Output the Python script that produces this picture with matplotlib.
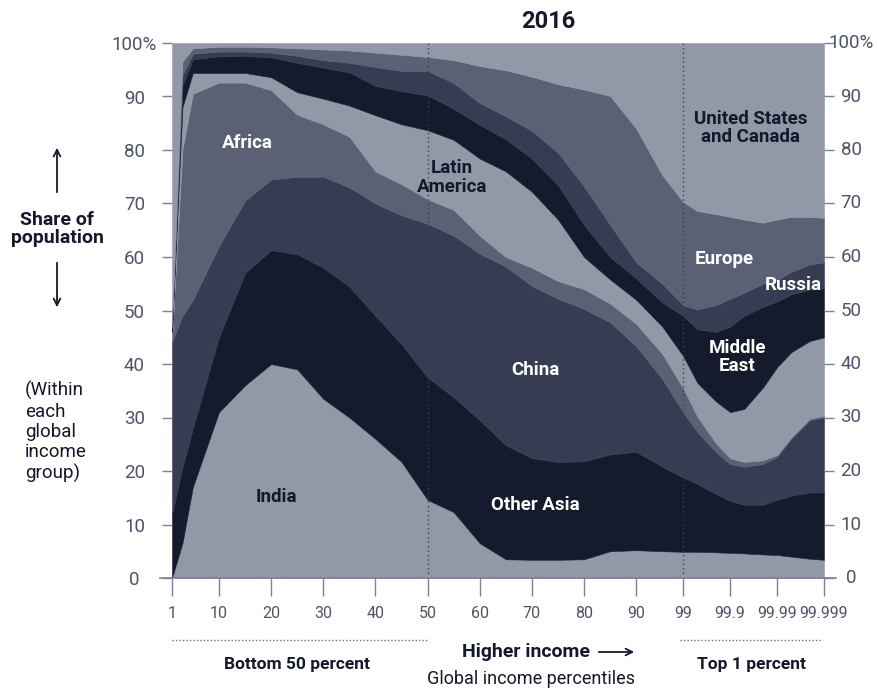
import numpy as np
import matplotlib.pyplot as plt
from matplotlib.lines import Line2D
from matplotlib import transforms

# global income percentiles (x) and share of each region's population (%)
percentiles = [1, 3, 5, 10, 15, 20, 25, 30, 35, 40, 45, 50, 55, 60, 65, 70, 75, 80, 85, 90, 95,
               99, 99.5, 99.8, 99.9, 99.95, 99.98, 99.99, 99.995, 99.998, 99.999]

india = [0, 6.5, 17, 31, 36, 40, 39, 33.5, 30, 26, 21.7, 14.6, 12.3, 6.5, 3.5, 3.4, 3.4, 3.5, 5.0, 5.2,
         5.0, 4.9, 4.9, 4.8, 4.7, 4.6, 4.4, 4.3, 4.0, 3.6, 3.4]
other_asia = [12, 14.2, 11, 14, 21, 21.3, 21.5, 24.5, 24.5, 23, 22, 22.9, 21.5, 23, 21.3, 19, 18.3, 18.3,
              18.1, 18.4, 15.8, 13.9, 12.7, 10.9, 9.7, 9.1, 9.3, 10.3, 11.4, 12.4, 12.6]
china = [32, 28.3, 24, 17, 13.5, 13.2, 14.5, 17, 18.5, 21, 24.1, 28.7, 30.2, 31.1, 33.4, 32.2, 30.5, 28.5,
         24.7, 19.7, 16.4, 12.2, 9.7, 7.8, 6.9, 7.1, 7.6, 8, 10.6, 13.5, 14]
africa = [1, 31, 38.5, 30.6, 22.1, 16.7, 11.6, 9.8, 9.5, 6, 5.8, 4.6, 4.8, 3.4, 1.8, 3.4, 3.3, 3.7, 3.5,
          4.2, 4.7, 4.5, 2.9, 1.7, 1.1, 0.9, 0.7, 0.4, 0.3, 0.3, 0.3]
latin_america = [1, 8, 3.9, 1.8, 1.8, 2.4, 4.2, 4.8, 5.8, 10.5, 11.2, 12.9, 13.1, 14.4, 16, 14.2, 11.5, 6,
                 4.5, 4.5, 5.1, 6, 6.3, 7.8, 8.6, 9.9, 13.6, 16.4, 15.9, 14.5, 14.7]
middle_east = [0.5, 4, 2.6, 3.1, 3.2, 3.7, 5.5, 5.8, 6.2, 5.5, 6.2, 6.5, 5.8, 6.3, 6, 6.2, 6.4, 6, 4.2, 4,
               4.5, 7.5, 10, 13, 16, 17.4, 15.1, 12.3, 10.8, 9.6, 9.2]
russia = [0.5, 2, 1, 0.9, 0.8, 0.9, 1.3, 1.4, 1.8, 3.5, 3.8, 4.6, 4.8, 4.1, 4.3, 5.2, 6.1, 7.2, 6, 3, 3.5,
          2, 3.7, 5, 5.2, 4.3, 4.3, 4, 4.2, 4.7, 4.8]
europe = [1, 2.5, 1, 0.9, 0.9, 1, 1.4, 2, 2.3, 2.7, 3, 2.6, 4.3, 6.9, 8.6, 10.1, 12.8, 18.1, 24.1, 25,
          20.3, 19.3, 18.4, 17, 15.3, 13.7, 11.4, 11.3, 10.3, 8.9, 8.3]
us_canada = [52, 3.5, 1, 0.7, 0.7, 0.8, 1, 1.2, 1.4, 1.8, 2.2, 2.6, 3.2, 4.3, 5.1, 6.3, 7.7, 8.7, 9.9, 16,
             24.7, 29.7, 31.4, 32, 32.5, 33, 33.6, 33, 32.5, 32.5, 32.7]

tick_percentiles = [1, 10, 20, 30, 40, 50, 60, 70, 80, 90, 99, 99.9, 99.99, 99.999]
tick_labels = ["1", "10", "20", "30", "40", "50", "60", "70", "80", "90", "99", "99.9", "99.99", "99.999"]
y_ticks = [0, 10, 20, 30, 40, 50, 60, 70, 80, 90, 100]
y_labels = ["0", "10", "20", "30", "40", "50", "60", "70", "80", "90", "100%"]


def xpos(p):
    # linear up to 99, then one step per "nine" inside the top 1 percent
    p = np.asarray(p, dtype=float)
    top = 99 + 9 * -np.log10(np.clip(100 - p, 1e-9, None))
    return np.where(p <= 99, p, top)


plt.rcParams['font.family'] = ['Roboto', 'DejaVu Sans']

LIGHT = "#9398a9"
BLACK = "#151a2d"
SLATE = "#363c51"
MEDIUM = "#5b6175"
NAVY = "#14182b"
TICK = "#7d8396"
LABEL = "#4d536a"

fig = plt.figure(figsize=(8.78, 6.89), dpi=100)
ax = fig.add_axes([172 / 878, 1 - 578 / 689, (824 - 172) / 878, (578 - 43) / 689])

x = xpos(percentiles)
series = [india, other_asia, china, africa, latin_america, middle_east, russia, europe, us_canada]
colors = [LIGHT, BLACK, SLATE, MEDIUM, LIGHT, BLACK, SLATE, MEDIUM, LIGHT]
polys = ax.stackplot(x, series, colors=colors, linewidth=0.4)
for p, c in zip(polys, colors):
    p.set_edgecolor(c)

ax.set_xlim(xpos(1), xpos(99.999))
ax.set_ylim(0, 100)

for p in [50, 99]:
    ax.axvline(xpos(p), color="#3a3f50", lw=1, ls=(0, (1, 2.2)), zorder=5)

# axes styling
for s in ax.spines.values():
    s.set_visible(False)
ax.plot([-0.018, 1.018], [0, 0], transform=ax.transAxes, color=TICK, lw=1.2, clip_on=False, zorder=6)

ax.set_xticks(xpos(tick_percentiles))
ax.set_xticklabels(tick_labels)
ax.tick_params(axis="x", length=13, width=1, color=TICK, labelcolor=LABEL, labelsize=11.5, pad=7)

ax.set_yticks(y_ticks)
ax.set_yticklabels(y_labels)
ax.tick_params(axis="y", left=True, right=True, labelleft=True, labelright=False,
               length=7, width=1, color=TICK, labelcolor=LABEL, labelsize=13.5, pad=20)
for lbl in ax.get_yticklabels():
    lbl.set_horizontalalignment("center")

# right-hand labels, centred 27 px right of the plot
right_tr = transforms.blended_transform_factory(ax.transAxes, ax.transData) + \
    transforms.ScaledTranslation(27 / 100, 0, fig.dpi_scale_trans)
for v, lab in zip(y_ticks, y_labels):
    ax.text(1, v, lab, transform=right_tr, ha="center", va="center", fontsize=13.5, color=LABEL)

# region labels
bold = dict(fontsize=13.5, fontweight="bold", ha="center", va="center", linespacing=1.05)
ax.text(xpos(15.4), 81.3, "Africa", color="white", **bold)
ax.text(54.7, 74.8, "Latin\nAmerica", color=NAVY, **bold)
ax.text(70.6, 38.9, "China", color="white", **bold)
ax.text(70.6, 13.6, "Other Asia", color="white", **bold)
ax.text(21.1, 15.1, "India", color=NAVY, **bold)
ax.text(111.9, 84.1, "United States\nand Canada", color=NAVY, **bold)
ax.text(106.9, 59.6, "Europe", color="white", **bold)
ax.text(120.1, 54.8, "Russia", color="white", **bold)
ax.text(109.4, 41.3, "Middle\nEast", color="white", **bold)

# title and outer annotations
fig.text(548 / 878, 1 - 22 / 689, "2016", fontsize=17, fontweight="bold", color=NAVY, ha="center", va="center")

fig.text(57 / 878, 1 - 229 / 689, "Share of\npopulation", fontsize=14, fontweight="bold", color=NAVY,
         ha="center", va="center", linespacing=1.0)
fig.add_artist(plt.Annotation("", xy=(57 / 878, 1 - 145 / 689), xytext=(57 / 878, 1 - 195 / 689),
                              xycoords="figure fraction",
                              arrowprops=dict(arrowstyle="->", color=NAVY, lw=1.3, mutation_scale=12)))
fig.add_artist(plt.Annotation("", xy=(57 / 878, 1 - 310 / 689), xytext=(57 / 878, 1 - 260 / 689),
                              xycoords="figure fraction",
                              arrowprops=dict(arrowstyle="->", color=NAVY, lw=1.3, mutation_scale=12)))
fig.text(25 / 878, 1 - 381 / 689, "(Within\neach\nglobal\nincome\ngroup)", fontsize=13.5, color=NAVY,
         ha="left", va="top", linespacing=1.17)

for x0, x1 in [(172, 427), (680, 822)]:
    fig.add_artist(Line2D([x0 / 878, x1 / 878], [1 - 640 / 689] * 2, color="#6a7085", lw=1,
                          ls=(0, (1, 1.5))))
fig.text(297 / 878, 1 - 665 / 689, "Bottom 50 percent", fontsize=12.5, fontweight="bold", color=NAVY,
         ha="center", va="center")
fig.text(751 / 878, 1 - 665 / 689, "Top 1 percent", fontsize=12.5, fontweight="bold", color=NAVY,
         ha="center", va="center")
fig.text(526 / 878, 1 - 652 / 689, "Higher income", fontsize=14, fontweight="bold", color=NAVY,
         ha="center", va="center")
fig.add_artist(plt.Annotation("", xy=(637 / 878, 1 - 652 / 689), xytext=(596 / 878, 1 - 652 / 689),
                              xycoords="figure fraction",
                              arrowprops=dict(arrowstyle="->", color=NAVY, lw=1.3, mutation_scale=12)))
fig.text(531 / 878, 1 - 679 / 689, "Global income percentiles", fontsize=13, color=NAVY,
         ha="center", va="center")

fig.savefig("out.png", dpi=100)
